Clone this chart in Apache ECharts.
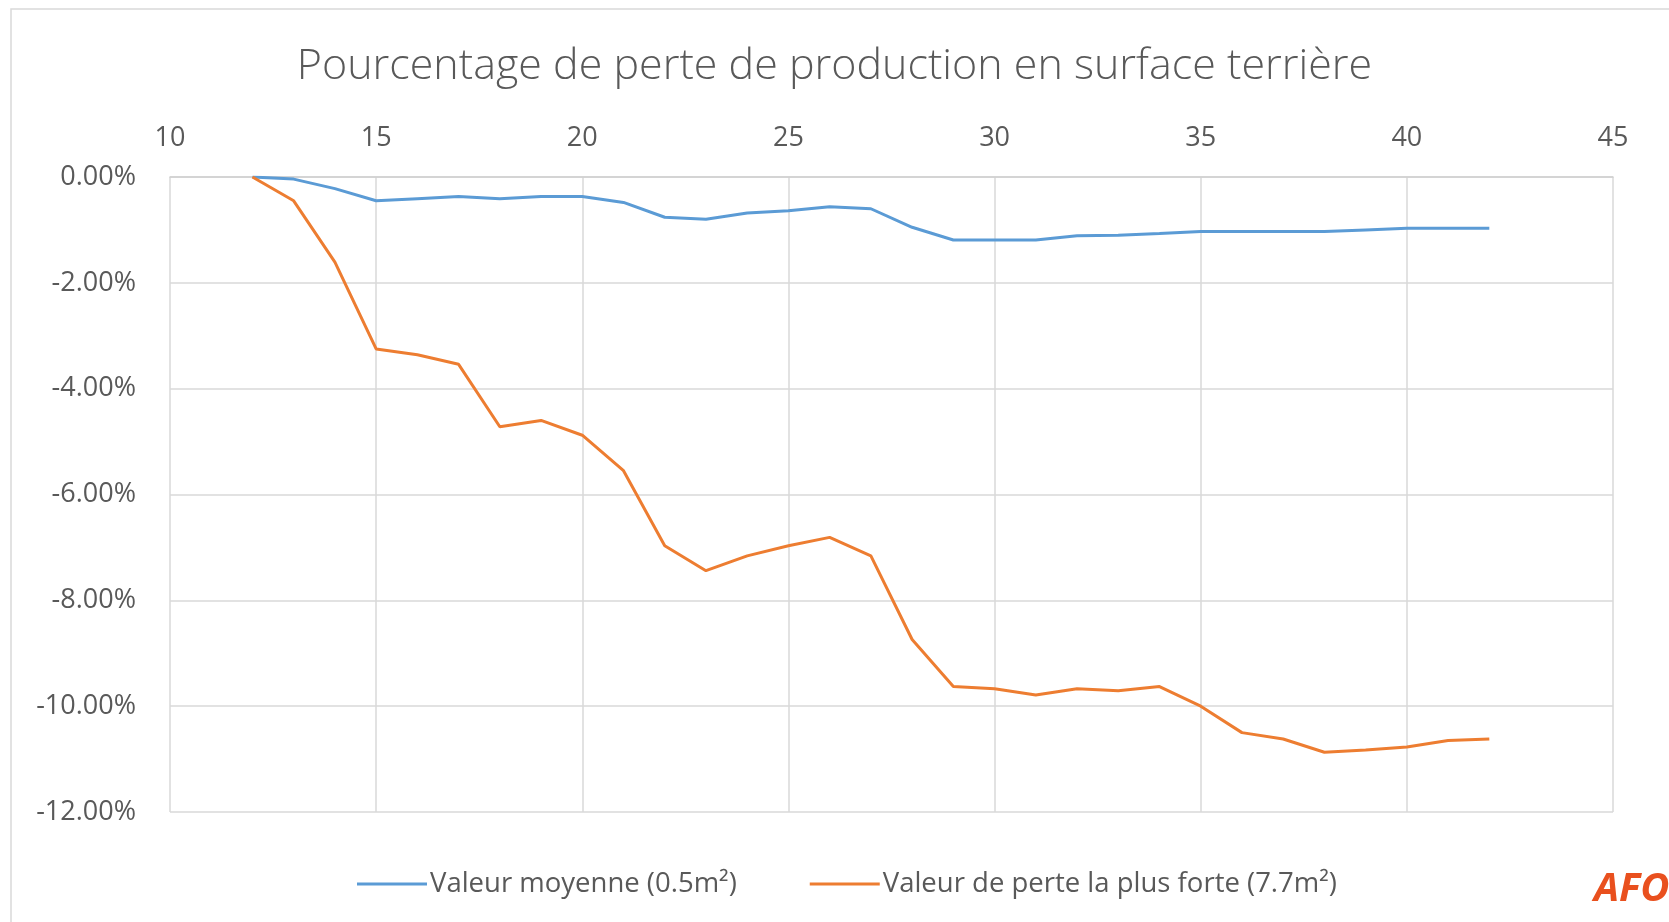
<!DOCTYPE html>
<html>
<head>
<meta charset="utf-8">
<script src="https://cdn.jsdelivr.net/npm/echarts@6/dist/echarts.min.js"></script>
<style>
  html, body { margin: 0; padding: 0; background: #fff; }
  #chart { width: 1669px; height: 922px; }
</style>
</head>
<body>
<div id="chart"></div>
<script>
// Diameter classes (x axis)
const diameters = [12, 13, 14, 15, 16, 17, 18, 19, 20, 21, 22, 23, 24, 25, 26, 27,
  28, 29, 30, 31, 32, 33, 34, 35, 36, 37, 38, 39, 40, 41, 42];

// Production loss in basal area, in percent
const perteMoyenne = [0, -0.04, -0.22, -0.45, -0.41, -0.37, -0.41, -0.37, -0.37, -0.48,
  -0.76, -0.80, -0.68, -0.64, -0.56, -0.60, -0.95, -1.19, -1.19, -1.19, -1.11, -1.10,
  -1.07, -1.03, -1.03, -1.03, -1.03, -1.00, -0.97, -0.97, -0.97];
const perteForte = [0, -0.45, -1.61, -3.25, -3.36, -3.54, -4.72, -4.60, -4.88, -5.55,
  -6.97, -7.44, -7.16, -6.97, -6.81, -7.16, -8.74, -9.63, -9.67, -9.79, -9.67, -9.71,
  -9.63, -10.0, -10.5, -10.62, -10.87, -10.83, -10.77, -10.65, -10.62];

const seriesNames = ['Valeur moyenne (0.5m²)', 'Valeur de perte la plus forte (7.7m²)'];
const titleText = 'Pourcentage de perte de production en surface terrière';

const FONT = '"Open Sans", "Noto Sans", sans-serif';
const TXT = '#595959';

const chart = echarts.init(document.getElementById('chart'));
chart.setOption({
  backgroundColor: '#ffffff',
  animation: false,
  title: {
    text: titleText,
    left: 'center',
    top: 40,
    textStyle: { fontFamily: FONT, fontSize: 43, fontWeight: 300, color: TXT }
  },
  grid: { left: 170, right: 56, top: 177, bottom: 110 },
  legend: {
    bottom: 19,
    left: 352,
    itemWidth: 70,
    itemHeight: 3,
    itemGap: 73,
    icon: 'rect',
    textStyle: { fontFamily: FONT, fontSize: 27.5, color: TXT, padding: [0, 0, 0, -2] },
    data: seriesNames
  },
  xAxis: {
    type: 'value',
    position: 'top',
    min: 10,
    max: 45,
    interval: 5,
    axisLine: { show: true, lineStyle: { color: '#D0D0D0', width: 1.5 } },
    axisTick: { show: false },
    axisLabel: { fontFamily: FONT, fontSize: 27, color: TXT, margin: 25 },
    splitLine: { show: true, lineStyle: { color: '#D9D9D9', width: 1.5 } }
  },
  yAxis: {
    type: 'value',
    min: -12,
    max: 0,
    interval: 2,
    axisLine: { show: false },
    axisTick: { show: false },
    axisLabel: {
      fontFamily: FONT, fontSize: 27, color: TXT, margin: 34,
      formatter: v => v.toFixed(2) + '%'
    },
    splitLine: { show: true, lineStyle: { color: '#D9D9D9', width: 1.5 } }
  },
  series: [
    {
      name: seriesNames[0],
      type: 'line',
      data: diameters.map((d, i) => [d, perteMoyenne[i]]),
      symbol: 'none',
      lineStyle: { color: '#5B9BD5', width: 3 },
      itemStyle: { color: '#5B9BD5' }
    },
    {
      name: seriesNames[1],
      type: 'line',
      data: diameters.map((d, i) => [d, perteForte[i]]),
      symbol: 'none',
      lineStyle: { color: '#ED7D31', width: 3 },
      itemStyle: { color: '#ED7D31' }
    }
  ],
  graphic: [
    {
      type: 'rect',
      silent: true,
      shape: { x: 11, y: 9, width: 1700, height: 960 },
      style: { fill: 'none', stroke: '#D9D9D9', lineWidth: 1.5 }
    },
    {
      type: 'text',
      left: 1594,
      top: 870,
      style: {
        text: 'AFO',
        fontFamily: '"Open Sans", sans-serif',
        fontWeight: 'bold',
        fontStyle: 'italic',
        fontSize: 40,
        fill: '#E9501E'
      }
    }
  ]
});
</script>
</body>
</html>
